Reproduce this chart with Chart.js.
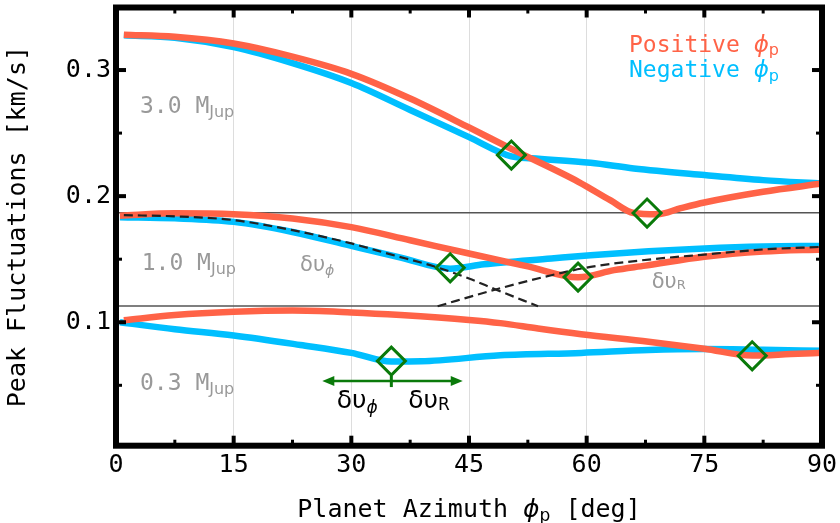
<!DOCTYPE html>
<html>
<head>
<meta charset="utf-8">
<script src="https://cdn.jsdelivr.net/npm/chart.js@4.4.0/dist/chart.umd.min.js"></script>
<style>
  html, body { margin: 0; padding: 0; background: #fff; }
  #wrap { width: 840px; height: 523px; }
</style>
</head>
<body>
<div id="wrap"><canvas id="chart" width="840" height="523"></canvas></div>
<script>
// Peak fluctuations vs planet azimuth, three planet masses

// 3.0 MJup
const az3Pos = [1, 7.5, 15, 22.5, 30, 37.5, 45, 50.4, 59, 63, 66, 69, 72, 75, 82.5, 90];
const pos3 = [0.3280, 0.3264, 0.3210, 0.3106, 0.2970, 0.2774, 0.2545, 0.2375, 0.2112, 0.1968, 0.1866, 0.1856, 0.1905, 0.1950, 0.2035, 0.2100];
const az3Neg = [1, 7.5, 15, 22.5, 30, 37.5, 45, 50.4, 53, 60.5, 66, 75, 82.5, 90];
const neg3 = [0.3275, 0.3256, 0.3182, 0.3055, 0.2897, 0.2683, 0.2468, 0.2315, 0.2300, 0.2264, 0.2220, 0.2167, 0.2127, 0.2100];

// 1.0 MJup
const az1Pos = [0.5, 7.5, 15, 22.5, 30, 37.5, 45, 52.5, 58.9, 63.5, 67.5, 75, 82.5, 90];
const pos1 = [0.1845, 0.1864, 0.1857, 0.1823, 0.1754, 0.1650, 0.1545, 0.1443, 0.1357, 0.1413, 0.1449, 0.1519, 0.1560, 0.1577];
const az1Neg = [0.5, 7.5, 15, 22.5, 30, 36.3, 42.6, 46.9, 55.5, 60.5, 67.9, 75, 82.5, 90];
const neg1 = [0.1833, 0.1824, 0.1796, 0.1716, 0.1605, 0.1513, 0.1425, 0.1460, 0.1506, 0.1532, 0.1563, 0.1585, 0.1600, 0.1605];

// 1.0 MJup components (dashed)
const azPhi = [1, 7.5, 15, 22.5, 30, 35, 40.5, 45, 48.4, 53.8];
const dvPhi = [0.1849, 0.1840, 0.1810, 0.1730, 0.1625, 0.1538, 0.1444, 0.1347, 0.1260, 0.1127];
const azR = [41, 48.4, 55.5, 60.5, 67.9, 75, 82.5, 90];
const dvR = [0.1127, 0.1260, 0.1373, 0.1439, 0.1497, 0.1537, 0.1577, 0.1598];

// 0.3 MJup
const az03Pos = [1, 7.5, 15, 22.5, 30, 36.3, 45, 49, 53.8, 59.3, 67.9, 75, 81.1, 86, 90];
const pos03 = [0.1016, 0.1057, 0.1083, 0.1093, 0.1078, 0.1057, 0.1018, 0.0993, 0.0950, 0.0905, 0.0845, 0.0790, 0.0736, 0.0748, 0.0758];
const az03Neg = [0.5, 7.5, 15, 23.5, 30, 35.1, 38.9, 49, 59.3, 67.9, 75, 82.5, 90];
const neg03 = [0.1000, 0.0945, 0.0895, 0.0820, 0.0757, 0.0688, 0.0690, 0.0738, 0.0757, 0.0780, 0.0787, 0.0781, 0.0774];

// transition markers (diamonds)
const markAz = [50.4, 67.7, 42.6, 58.9, 35.1, 81.1];
const markVal = [0.2326, 0.1866, 0.1432, 0.1358, 0.0692, 0.0734];

// horizontal separators
const refLevels = [0.1868, 0.1128];

// axes
const xMajorTicks = [0, 15, 30, 45, 60, 75, 90];
const xMinorTicks = [7.5, 22.5, 37.5, 52.5, 67.5, 82.5];
const yMajorTicks = [0.1, 0.2, 0.3];
const yMinorTicks = [0.05, 0.15, 0.25];
const massLabels = ['3.0', '1.0', '0.3'];

const RED = '#ff6347';
const BLUE = '#00bfff';
const GREEN = '#0a7a0a';
const GRAY = '#999999';
const MONO = "'DejaVu Sans Mono', monospace";
const SANS = "'DejaVu Sans', sans-serif";

const toPts = (xs, ys) => xs.map((x, i) => ({ x: x, y: ys[i] }));

function curve(xs, ys, color, order) {
  return {
    data: toPts(xs, ys),
    borderColor: color,
    borderWidth: 6.5,
    pointRadius: 0,
    cubicInterpolationMode: 'monotone',
    fill: false,
    order: order
  };
}

function dashed(xs, ys) {
  return {
    data: toPts(xs, ys),
    borderColor: '#222',
    borderWidth: 2.2,
    borderDash: [9, 5],
    pointRadius: 0,
    cubicInterpolationMode: 'monotone',
    fill: false,
    order: 1
  };
}

function refLine(v) {
  return {
    data: [{ x: 0, y: v }, { x: 90, y: v }],
    borderColor: '#555',
    borderWidth: 1.5,
    pointRadius: 0,
    fill: false,
    order: 5
  };
}

// draw a run of text pieces (for subscripts / mixed fonts)
function drawRich(ctx, x, y, segs, align) {
  ctx.textBaseline = 'alphabetic';
  ctx.textAlign = 'left';
  let w = 0;
  segs.forEach(s => { ctx.font = s.font; w += ctx.measureText(s.text).width; });
  let cx = align === 'center' ? x - w / 2 : x;
  segs.forEach(s => {
    ctx.font = s.font;
    ctx.fillStyle = s.color;
    ctx.fillText(s.text, cx, y + (s.dy || 0));
    cx += ctx.measureText(s.text).width;
  });
}

const overlay = {
  id: 'overlay',
  afterDatasetsDraw(chart) {
    const ctx = chart.ctx;
    const a = chart.chartArea;
    const xs = chart.scales.x;
    const ys = chart.scales.y;
    const px = v => xs.getPixelForValue(v);
    const py = v => ys.getPixelForValue(v);
    ctx.save();

    // inward ticks on all four sides
    ctx.strokeStyle = '#000';
    ctx.lineCap = 'butt';
    const tick = (x0, y0, x1, y1, w) => {
      ctx.lineWidth = w;
      ctx.beginPath(); ctx.moveTo(x0, y0); ctx.lineTo(x1, y1); ctx.stroke();
    };
    xMajorTicks.forEach(v => { tick(px(v), a.bottom, px(v), a.bottom - 10, 4); tick(px(v), a.top, px(v), a.top + 10, 4); });
    xMinorTicks.forEach(v => { tick(px(v), a.bottom, px(v), a.bottom - 6, 3); tick(px(v), a.top, px(v), a.top + 6, 3); });
    yMajorTicks.forEach(v => { tick(a.left, py(v), a.left + 10, py(v), 4); tick(a.right, py(v), a.right - 10, py(v), 4); });
    yMinorTicks.forEach(v => { tick(a.left, py(v), a.left + 6, py(v), 3); tick(a.right, py(v), a.right - 6, py(v), 3); });

    // frame
    ctx.lineWidth = 6;
    ctx.lineJoin = 'miter';
    ctx.strokeRect(a.left, a.top, a.right - a.left, a.bottom - a.top);

    // mass labels
    const massPos = [[3.06, 0.2657], [3.28, 0.1414], [3.06, 0.0462]];
    massLabels.forEach((t, i) => {
      drawRich(ctx, px(massPos[i][0]), py(massPos[i][1]), [
        { text: t + ' M', font: '23px ' + MONO, color: GRAY },
        { text: 'Jup', font: '16px ' + SANS, color: GRAY, dy: 3.5 }
      ]);
    });

    // legend text
    drawRich(ctx, px(65.4), py(0.3145), [
      { text: 'Positive ', font: '23px ' + MONO, color: RED },
      { text: 'ϕ', font: 'italic 23px ' + SANS, color: RED },
      { text: 'p', font: '16px ' + SANS, color: RED, dy: 3.5 }
    ]);
    drawRich(ctx, px(65.4), py(0.2942), [
      { text: 'Negative ', font: '23px ' + MONO, color: BLUE },
      { text: 'ϕ', font: 'italic 23px ' + SANS, color: BLUE },
      { text: 'p', font: '16px ' + SANS, color: BLUE, dy: 3.5 }
    ]);

    // component labels for the dashed curves
    drawRich(ctx, px(23.46), py(0.1406), [
      { text: 'δυ', font: '21px ' + SANS, color: GRAY },
      { text: 'ϕ', font: 'italic 14px ' + SANS, color: GRAY, dy: 4 }
    ]);
    drawRich(ctx, px(68.3), py(0.1269), [
      { text: 'δυ', font: '21px ' + SANS, color: GRAY },
      { text: 'R', font: '13px ' + SANS, color: GRAY, dy: 1 }
    ]);

    // green double arrow marking the split
    const ay = py(0.0534);
    const ax0 = px(26.3), ax1 = px(44.2), axc = px(35.1);
    ctx.strokeStyle = GREEN;
    ctx.fillStyle = GREEN;
    ctx.lineWidth = 2.5;
    ctx.beginPath(); ctx.moveTo(ax0 + 8, ay); ctx.lineTo(ax1 - 8, ay); ctx.stroke();
    ctx.lineWidth = 3;
    ctx.beginPath(); ctx.moveTo(axc, py(0.0574)); ctx.lineTo(axc, py(0.0486)); ctx.stroke();
    ctx.beginPath(); ctx.moveTo(ax0, ay); ctx.lineTo(ax0 + 12, ay - 5); ctx.lineTo(ax0 + 12, ay + 5); ctx.closePath(); ctx.fill();
    ctx.beginPath(); ctx.moveTo(ax1, ay); ctx.lineTo(ax1 - 12, ay - 5); ctx.lineTo(ax1 - 12, ay + 5); ctx.closePath(); ctx.fill();

    drawRich(ctx, px(28.13), py(0.0317), [
      { text: 'δυ', font: '25px ' + SANS, color: '#000' },
      { text: 'ϕ', font: 'italic 17px ' + SANS, color: '#000', dy: 5 }
    ]);
    drawRich(ctx, px(37.26), py(0.0317), [
      { text: 'δυ', font: '25px ' + SANS, color: '#000' },
      { text: 'R', font: '17px ' + SANS, color: '#000', dy: 2 }
    ]);

    // x axis title
    drawRich(ctx, (a.left + a.right) / 2, 517, [
      { text: 'Planet Azimuth ', font: '25px ' + MONO, color: '#000' },
      { text: 'ϕ', font: 'italic 25px ' + SANS, color: '#000' },
      { text: 'p', font: '17px ' + SANS, color: '#000', dy: 4 },
      { text: ' [deg]', font: '25px ' + MONO, color: '#000' }
    ], 'center');

    ctx.restore();
  }
};

new Chart(document.getElementById('chart'), {
  type: 'line',
  data: {
    datasets: [
      {
        data: toPts(markAz, markVal),
        showLine: false,
        pointStyle: 'rectRot',
        pointRadius: 14,
        pointBorderWidth: 3,
        pointBorderColor: GREEN,
        pointBackgroundColor: 'rgba(0,0,0,0)',
        order: 0
      },
      dashed(azPhi, dvPhi),
      dashed(azR, dvR),
      curve(az3Pos, pos3, RED, 2),
      curve(az1Pos, pos1, RED, 2),
      curve(az03Pos, pos03, RED, 2),
      curve(az3Neg, neg3, BLUE, 3),
      curve(az1Neg, neg1, BLUE, 3),
      curve(az03Neg, neg03, BLUE, 3),
      refLine(refLevels[0]),
      refLine(refLevels[1])
    ]
  },
  options: {
    responsive: false,
    devicePixelRatio: 1,
    animation: false,
    layout: { autoPadding: false, padding: { top: 7.5, right: 18, left: 0, bottom: 0 } },
    plugins: { legend: { display: false }, tooltip: { enabled: false } },
    scales: {
      x: {
        type: 'linear',
        min: 0,
        max: 90,
        afterBuildTicks: s => { s.ticks = xMajorTicks.map(v => ({ value: v })); },
        afterFit: s => { s.height = 77.3; s.paddingLeft = 0; s.paddingRight = 0; },
        grid: { display: true, color: '#dddddd', lineWidth: 1, drawTicks: false },
        border: { display: false },
        ticks: { color: '#000', font: { family: MONO, size: 25 }, padding: 5, maxRotation: 0, autoSkip: false }
      },
      y: {
        type: 'linear',
        min: 0.0021,
        max: 0.3496,
        afterBuildTicks: s => { s.ticks = yMajorTicks.map(v => ({ value: v })); },
        afterFit: s => { s.width = 116; s.paddingTop = 0; s.paddingBottom = 0; },
        grid: { display: false, drawTicks: false },
        border: { display: false },
        ticks: { color: '#000', font: { family: MONO, size: 25 }, padding: 5, callback: v => v.toFixed(1) },
        title: {
          display: true,
          text: 'Peak Fluctuations [km/s]',
          color: '#000',
          font: { family: MONO, size: 25 },
          padding: { top: 3, bottom: 0 }
        }
      }
    }
  },
  plugins: [overlay]
});
</script>
</body>
</html>
